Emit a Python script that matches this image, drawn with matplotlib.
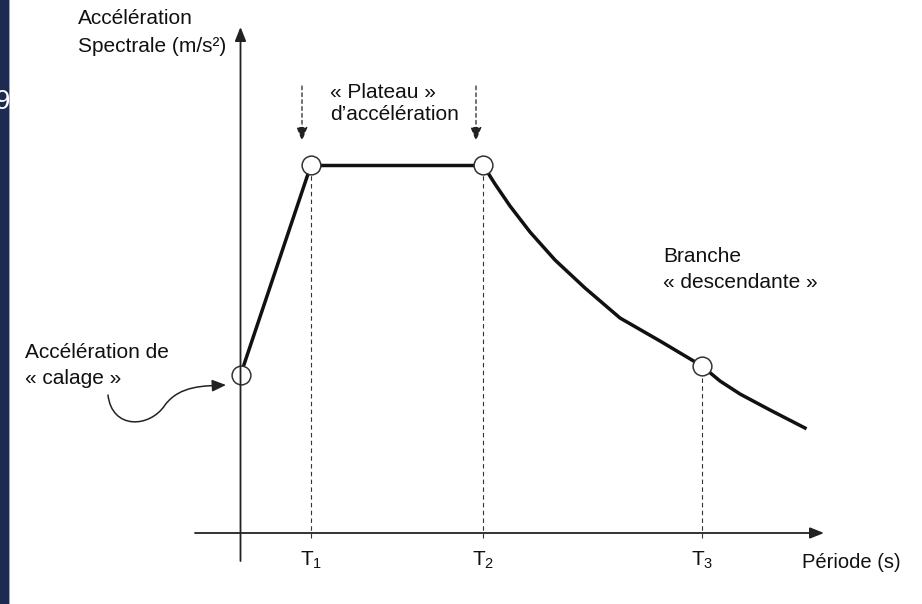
import matplotlib
matplotlib.use("Agg")
import matplotlib.pyplot as plt
from matplotlib.patches import FancyArrowPatch, Rectangle
from matplotlib.path import Path

plt.rcParams['font.family'] = ['Liberation Sans', 'DejaVu Sans']
plt.rcParams['mathtext.fontset'] = 'custom'
plt.rcParams['mathtext.rm'] = 'Liberation Sans'
plt.rcParams['mathtext.it'] = 'Liberation Sans'

# ---- data (period in s, spectral acceleration in m/s^2, arbitrary scale) ----
corner_periods = [0.3525, 1.2125, 2.3075]          # T1, T2, T3
corner_labels = ['T$_1$', 'T$_2$', 'T$_3$']
sa_calage = 1.58
sa_plateau = 3.68
sa_T3 = 1.67
rise_T = [0.0, 0.3525]
rise_Sa = [1.58, 3.68]
plateau_T = [0.3525, 1.2125]
plateau_Sa = [3.68, 3.68]
branch_T = [1.2125, 1.2725, 1.3475, 1.4475, 1.5725, 1.7225, 1.8975, 2.0975,
            2.3075, 2.3975, 2.4975, 2.6475, 2.8225]
branch_Sa = [3.68, 3.49, 3.27, 3.01, 2.73, 2.45, 2.15, 1.92,
             1.67, 1.52, 1.39, 1.23, 1.05]
circle_T = [0.0, 0.3525, 1.2125, 2.3075]
circle_Sa = [1.58, 3.68, 3.68, 1.67]

W, H = 922, 604
fig = plt.figure(figsize=(W / 100, H / 100), dpi=100)
fig.patch.set_facecolor('white')

# main data axes, placed so that origin sits at pixel (240.5, 533)
ox, oy = 240.5, 533.0
sx, sy = 200.0, 100.0
ax = fig.add_axes([0, 0, 1, 1])
ax.set_xlim(-ox / sx, (W - ox) / sx)
ax.set_ylim(-(H - oy) / sy, oy / sy)
ax.axis('off')

# overlay axes in pixel coords for decorations
deco = fig.add_axes([0, 0, 1, 1], zorder=5)
deco.set_xlim(0, W)
deco.set_ylim(H, 0)
deco.axis('off')
deco.patch.set_alpha(0)

ink = '#111111'
# curve
ax.plot(rise_T, rise_Sa, color=ink, lw=2.5, solid_capstyle='round', zorder=3)
ax.plot(plateau_T, plateau_Sa, color=ink, lw=2.5, zorder=3)
ax.plot(branch_T, branch_Sa, color=ink, lw=2.5, solid_joinstyle='round', zorder=3)

# dashed verticals
for t, s in zip(corner_periods, [sa_plateau, sa_plateau, sa_T3]):
    ax.plot([t, t], [-0.05, s], color='#333333', lw=0.8, ls=(0, (4, 3)), zorder=2)

# circles
ax.plot(circle_T, circle_Sa, 'o', ms=13.5, mfc='white', mec='#333333', mew=1.1, zorder=4)

# corner labels
for t, lab in zip(corner_periods, corner_labels):
    ax.text(t, -0.27, lab, fontsize=15, ha='center', va='center', color=ink)

# axes with arrows
arr_kw = dict(arrowstyle='-|>,head_length=0.7,head_width=0.28', color='#222222',
              lw=1.3, mutation_scale=12, shrinkA=0, shrinkB=0)
deco.add_patch(FancyArrowPatch((195, 533), (824, 533), **arr_kw))
deco.add_patch(FancyArrowPatch((240.5, 561), (240.5, 27), **arr_kw))

# dashed arrows above plateau
darr_kw = dict(arrowstyle='-|>,head_length=0.7,head_width=0.28', color='#222222',
               lw=0.9, mutation_scale=12, shrinkA=0, shrinkB=0, linestyle=(0, (3, 2.5)))
deco.add_patch(FancyArrowPatch((302, 86), (302, 141), **darr_kw))
deco.add_patch(FancyArrowPatch((476, 86), (476, 141), **darr_kw))

# curved arrow for "calage"
verts = [(108, 395), (112, 430), (150, 428), (165, 405),
         (180, 385), (205, 386), (226, 385)]
codes = [Path.MOVETO, Path.CURVE4, Path.CURVE4, Path.CURVE4,
         Path.CURVE4, Path.CURVE4, Path.CURVE4]
deco.add_patch(FancyArrowPatch(path=Path(verts, codes),
                               arrowstyle='-|>,head_length=0.7,head_width=0.3',
                               color='#222222', lw=1.1, mutation_scale=12))

fs = 15
deco.text(78, 19, 'Accélération', fontsize=fs, va='center', ha='left', color=ink)
deco.text(78, 47, 'Spectrale (m/s²)', fontsize=fs, va='center', ha='left', color=ink)
deco.text(330, 92, '« Plateau »', fontsize=fs, va='center', ha='left', color=ink)
deco.text(330, 115, 'd\u2019accélération', fontsize=fs, va='center', ha='left', color=ink)
deco.text(25, 352, 'Accélération de', fontsize=fs, va='center', ha='left', color=ink)
deco.text(25, 378, '« calage »', fontsize=fs, va='center', ha='left', color=ink)
deco.text(663, 257, 'Branche', fontsize=fs, va='center', ha='left', color=ink)
deco.text(663, 283, '« descendante »', fontsize=fs, va='center', ha='left', color=ink)
deco.text(802, 562, 'Période (s)', fontsize=14.5, va='center', ha='left', color=ink)

# navy strip at the left edge (with a partly hidden glyph, as in the source)
strip = Rectangle((0, 0), 8.5, H, facecolor='#1d2b53', edgecolor='none', zorder=6)
deco.add_patch(strip)
deco.add_patch(Rectangle((8.5, 0), 1.2, H, facecolor='#9aa3bd', edgecolor='none', zorder=6))
t9 = deco.text(-5, 102, '9', fontsize=20, color='white', va='center', ha='left', zorder=7)
t9.set_clip_path(strip)

fig.savefig('out.png', dpi=100, facecolor='white')
